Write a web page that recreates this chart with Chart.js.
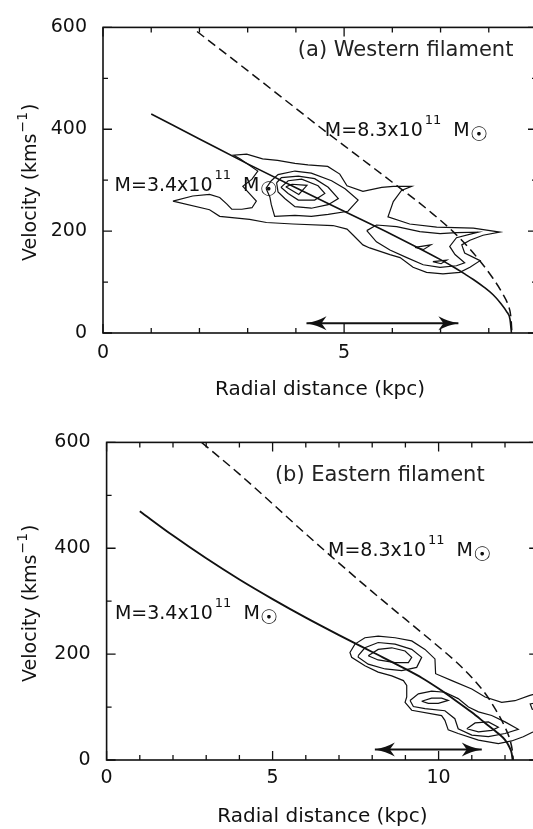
<!DOCTYPE html>
<html>
<head>
<meta charset="utf-8">
<script src="https://cdn.jsdelivr.net/npm/chart.js@4.4.1/dist/chart.umd.min.js"></script>
<style>
  html, body { margin: 0; padding: 0; background: #fff; overflow: hidden; }
  #wrap { position: relative; width: 533px; height: 829px; overflow: hidden; background: #fff; }
  #wrap canvas { position: absolute; left: 0; }
  #west { top: 0; }
  #east { top: 415px; }
</style>
</head>
<body>
<div id="wrap">
  <canvas id="west" width="545" height="415"></canvas>
  <canvas id="east" width="545" height="414"></canvas>
</div>
<script>
// ---- shared axis values ----
const velTicks = [0, 200, 400, 600];
const velMinor = [100, 300, 500];

// ---- (a) Western filament ----
const westTicks = [0, 5];
const westMinor = [1, 2, 3, 4, 6, 7, 8];
// model curves: [radius kpc, velocity km/s]
const westModelLow = [[1, 430], [2, 381], [3, 332], [4, 285], [5, 239], [6, 193], [6.5, 169], [7, 144], [7.26, 130],
  [7.5, 116], [7.68, 105], [7.9, 90], [8.09, 75], [8.25, 58], [8.37, 42], [8.44, 27], [8.47, 0]];
const westModelHigh = [[1.95, 592], [3, 515], [4, 441], [4.5, 404], [5, 368], [5.5, 332], [6, 296], [6.5, 260],
  [6.85, 233], [7.26, 199], [7.68, 157], [8.09, 107], [8.3, 75], [8.4, 55], [8.46, 30], [8.48, 0]];
// position-velocity contours (closed rings)
const westContours = [
  [[1.45, 259], [1.86, 269], [2.21, 272], [2.42, 266], [2.57, 253], [2.67, 243], [2.88, 243], [3.09, 246], [3.18, 259],
   [2.90, 288], [3.09, 302], [3.21, 318], [2.84, 342], [2.71, 349], [2.98, 351], [3.31, 342], [3.62, 339], [3.98, 333],
   [4.25, 330], [4.66, 327], [4.91, 312], [5.06, 289], [5.39, 278], [5.78, 286], [6.02, 288], [6.40, 288], [6.19, 280],
   [6.02, 258], [5.91, 228], [6.36, 214], [6.92, 208], [7.68, 206], [8.23, 198], [7.88, 192], [7.61, 182], [7.44, 173],
   [7.50, 157], [7.82, 142], [7.61, 129], [7.40, 119], [7.05, 116], [6.71, 119], [6.43, 129], [6.16, 148], [5.95, 154],
   [5.53, 167], [5.39, 173], [5.19, 192], [5.06, 204], [4.77, 211], [3.94, 214], [3.39, 217], [3.04, 223], [2.42, 229],
   [2.21, 242]],
  [[3.38, 284], [3.49, 299], [3.63, 311], [3.98, 318], [4.32, 314], [4.74, 299], [5.02, 283], [5.29, 261], [5.08, 239],
   [4.67, 233], [4.32, 229], [3.98, 231], [3.56, 229], [3.49, 252], [3.46, 267]],
  [[3.60, 295], [3.70, 305], [4.05, 308], [4.39, 303], [4.67, 286], [4.88, 264], [4.67, 252], [4.32, 245], [3.98, 248],
   [3.77, 264], [3.63, 277]],
  [[3.69, 286], [3.84, 299], [4.12, 302], [4.46, 289], [4.60, 274], [4.39, 261], [4.05, 261], [3.84, 274]],
  [[3.79, 287], [3.92, 292], [4.23, 290], [4.06, 272]],
  [[5.47, 201], [5.67, 212], [6.09, 209], [6.57, 199], [6.99, 195], [7.33, 197], [7.78, 198], [7.33, 187], [7.19, 170],
   [7.30, 154], [7.50, 138], [7.33, 132], [6.99, 129], [6.64, 134], [6.30, 148], [5.95, 163], [5.67, 179]],
  [[6.47, 168], [6.80, 173], [6.65, 164]],
  [[6.84, 140], [7.13, 143], [7.01, 136]]
];
const westArrow = [[4.22, 19], [7.37, 19]];

// ---- (b) Eastern filament ----
const eastTicks = [0, 5, 10];
const eastMinor = [1, 2, 3, 4, 6, 7, 8, 9, 11, 12];
const eastModelLow = [[1, 470], [2, 424], [3, 381], [4, 341], [5, 304], [6, 269], [7, 236], [8, 204], [9, 172],
  [9.5, 155], [10, 135], [10.5, 113], [11, 90], [11.4, 70], [11.8, 50], [12.0, 38], [12.12, 26], [12.2, 13], [12.23, 0]];
const eastModelHigh = [[2.86, 600], [4, 540], [5, 484], [6, 427], [7, 372], [8, 318], [9, 266], [10, 214], [10.5, 187],
  [11, 156], [11.4, 126], [11.7, 97], [12, 62], [12.15, 38], [12.22, 18], [12.25, 0]];
const eastContours = [
  // lowest level, continues past the right-hand edge
  [[13.1, 62], [12.84, 53], [12.55, 44], [12.20, 36], [11.80, 31], [11.20, 37.5], [10.59, 50], [10.29, 57], [10.19, 75],
   [10.09, 84], [9.19, 94], [8.99, 109], [9.04, 119], [9.04, 141], [8.94, 150], [8.59, 159], [8.18, 166], [7.78, 178],
   [7.38, 194], [7.33, 203], [7.48, 219], [7.78, 231], [8.18, 234], [8.69, 231], [9.19, 225], [9.59, 209], [9.89, 191],
   [9.91, 163], [10.40, 150], [11.00, 134], [11.40, 119], [11.90, 109], [12.30, 112], [12.75, 122], [13.1, 128]],
  [[13.1, 110], [12.76, 106], [12.82, 96], [13.1, 93]],
  [[7.58, 197], [7.78, 212], [8.18, 222], [8.69, 219], [9.19, 209], [9.49, 194], [9.34, 175], [8.89, 169], [8.39, 172],
   [7.88, 181], [7.58, 194]],
  [[7.88, 197], [8.18, 209], [8.59, 212], [8.99, 206], [9.19, 194], [9.09, 184], [8.69, 184], [8.18, 189]],
  [[9.14, 112.5], [9.39, 125], [9.79, 130], [10.19, 128], [10.59, 116], [10.90, 100], [11.20, 91], [11.60, 84], [12.0, 72],
   [12.40, 58], [12.0, 50], [11.50, 44], [11.0, 47], [10.59, 59], [10.49, 78], [10.19, 93], [9.59, 97], [9.24, 101]],
  [[9.49, 111], [9.79, 117], [10.09, 117], [10.29, 112.5], [9.99, 107], [9.69, 107]],
  [[10.85, 59], [11.10, 70], [11.50, 72], [11.80, 62], [11.60, 56], [11.20, 53]]
];
const eastOpen = [true, true, false, false, false, false, false]; // first two run off the edge
const eastArrow = [[8.08, 20], [11.3, 20]];

const FONT = '"DejaVu Sans", "Liberation Sans", sans-serif';
const INK = '#111';

const toXY = pts => pts.map(p => ({ x: p[0], y: p[1] }));
const ring = pts => toXY(pts.concat([pts[0]]));

function head(ctx, tx, ty, dir) {
  const L = 20, W = 7, N = 5;
  ctx.beginPath();
  ctx.moveTo(tx, ty);
  ctx.quadraticCurveTo(tx - dir * L * 0.55, ty - W * 0.3, tx - dir * L, ty - W);
  ctx.lineTo(tx - dir * (L - N), ty);
  ctx.lineTo(tx - dir * L, ty + W);
  ctx.quadraticCurveTo(tx - dir * L * 0.55, ty + W * 0.3, tx, ty);
  ctx.closePath();
  ctx.fill();
}

function massLabel(ctx, x, y, mantissa) {
  ctx.textAlign = 'left';
  ctx.textBaseline = 'alphabetic';
  const main = 'M=' + mantissa + 'x10';
  ctx.font = '19px ' + FONT;
  ctx.fillText(main, x, y);
  let cx = x + ctx.measureText(main).width + 2;
  ctx.font = '13px ' + FONT;
  ctx.fillText('11', cx, y - 12);
  cx += ctx.measureText('11').width + 12;
  ctx.font = '19px ' + FONT;
  ctx.fillText('M', cx, y);
  cx += ctx.measureText('M').width;
  ctx.font = '20px ' + FONT;
  ctx.fillText('\u2609', cx, y + 5);
}

function velTitle(ctx, bx, cy) {
  ctx.save();
  ctx.translate(bx, cy);
  ctx.rotate(-Math.PI / 2);
  ctx.textAlign = 'left';
  ctx.textBaseline = 'alphabetic';
  const a = 'Velocity (kms', s = '\u22121', b = ')';
  ctx.font = '19px ' + FONT;
  const wa = ctx.measureText(a).width, wb = ctx.measureText(b).width;
  ctx.font = '14px ' + FONT;
  const ws = ctx.measureText(s).width;
  let x = -(wa + ws + wb + 2) / 2;
  ctx.font = '19px ' + FONT;
  ctx.fillText(a, x, 0);
  x += wa + 1;
  ctx.font = '14px ' + FONT;
  ctx.fillText(s, x, -9);
  x += ws + 1;
  ctx.font = '19px ' + FONT;
  ctx.fillText(b, x, 0);
  ctx.restore();
}

const framePlugin = {
  id: 'frame',
  afterDatasetsDraw(chart, args, o) {
    const pts = chart.getDatasetMeta(o.arrowIndex).data;
    if (!pts || pts.length < 2) return;
    const ctx = chart.ctx;
    ctx.save();
    ctx.fillStyle = INK;
    head(ctx, pts[0].x, pts[0].y, -1);
    head(ctx, pts[pts.length - 1].x, pts[pts.length - 1].y, 1);
    ctx.restore();
  },
  afterDraw(chart, args, o) {
    const { ctx, chartArea: ca, scales: { x, y } } = chart;
    ctx.save();
    ctx.strokeStyle = INK;
    ctx.lineWidth = 1.6;
    ctx.strokeRect(ca.left, ca.top, ca.right - ca.left, ca.bottom - ca.top);
    ctx.lineWidth = 1.3;
    ctx.beginPath();
    const xt = (vals, len) => vals.forEach(v => {
      const p = x.getPixelForValue(v);
      ctx.moveTo(p, ca.bottom); ctx.lineTo(p, ca.bottom - len);
      ctx.moveTo(p, ca.top); ctx.lineTo(p, ca.top + len);
    });
    const yt = (vals, len) => vals.forEach(v => {
      const p = y.getPixelForValue(v);
      ctx.moveTo(ca.left, p); ctx.lineTo(ca.left + len, p);
      ctx.moveTo(ca.right, p); ctx.lineTo(ca.right - len, p);
    });
    xt(o.xMajor, 9); xt(o.xMinor, 5);
    yt(velTicks, 9); yt(velMinor, 5);
    ctx.stroke();

    ctx.textAlign = 'left';
    ctx.textBaseline = 'alphabetic';
    ctx.font = '21px ' + FONT;
    ctx.fillStyle = '#222';
    ctx.fillText(o.title, x.getPixelForValue(o.titleAt[0]), y.getPixelForValue(o.titleAt[1]));
    ctx.fillStyle = INK;
    o.masses.forEach(m => massLabel(ctx, x.getPixelForValue(m.at[0]), y.getPixelForValue(m.at[1]), m.mantissa));

    ctx.font = '20px ' + FONT;
    ctx.textAlign = 'center';
    ctx.fillText('Radial distance (kpc)', (ca.left + ca.right) / 2, ca.bottom + 62);
    velTitle(ctx, 36, (ca.top + ca.bottom) / 2 + 2);
    ctx.restore();
  }
};

function buildDatasets(low, high, contours, openFlags, arrow, lowWidth) {
  const sets = [];
  contours.forEach((c, i) => sets.push({
    data: (openFlags && openFlags[i]) ? toXY(c) : ring(c),
    borderColor: INK, borderWidth: 1.2, tension: 0
  }));
  sets.push({ data: toXY(low), borderColor: INK, borderWidth: lowWidth, cubicInterpolationMode: 'monotone' });
  sets.push({ data: toXY(high), borderColor: INK, borderWidth: 1.5, borderDash: [9, 5], cubicInterpolationMode: 'monotone' });
  sets.push({ data: toXY(arrow), borderColor: INK, borderWidth: 2 });
  sets.forEach(s => { s.showLine = true; s.pointRadius = 0; s.fill = false; });
  return sets;
}

function makeChart(id, cfg) {
  const datasets = buildDatasets(cfg.low, cfg.high, cfg.contours, cfg.open, cfg.arrow, cfg.lowWidth);
  return new Chart(document.getElementById(id), {
    type: 'scatter',
    data: { datasets },
    plugins: [framePlugin],
    options: {
      responsive: false,
      animation: false,
      devicePixelRatio: 1,
      events: [],
      layout: { padding: { left: 0, top: cfg.padTop, right: cfg.padRight, bottom: 0 } },
      plugins: {
        legend: { display: false },
        tooltip: { enabled: false },
        frame: {
          arrowIndex: datasets.length - 1,
          xMajor: cfg.xTicks, xMinor: cfg.xMinor,
          title: cfg.title, titleAt: cfg.titleAt, masses: cfg.masses
        }
      },
      scales: {
        x: {
          type: 'linear', min: 0, max: cfg.xMax,
          grid: { display: false, drawTicks: false },
          border: { display: false },
          ticks: { color: INK, font: { family: FONT, size: 19 }, padding: cfg.xPad, autoSkip: false, maxRotation: 0,
                   callback: v => String(v) },
          afterBuildTicks: s => { s.ticks = cfg.xTicks.map(v => ({ value: v })); },
          afterFit: s => { s.height = cfg.xAxisH; }
        },
        y: {
          type: 'linear', min: 0, max: 600,
          grid: { display: false, drawTicks: false },
          border: { display: false },
          ticks: { color: INK, font: { family: FONT, size: 19 }, padding: 16, autoSkip: false,
                   callback: v => String(v) },
          afterBuildTicks: s => { s.ticks = velTicks.map(v => ({ value: v })); },
          afterFit: s => { s.width = cfg.yAxisW; }
        }
      }
    }
  });
}

makeChart('west', {
  low: westModelLow, high: westModelHigh, contours: westContours, open: null, arrow: westArrow, lowWidth: 1.6,
  xMax: 9, xTicks: westTicks, xMinor: westMinor,
  padTop: 15, padRight: 8, xAxisH: 82, yAxisW: 103, xPad: 9,
  title: '(a) Western filament', titleAt: [4.04, 543],
  masses: [{ mantissa: '3.4', at: [0.24, 278] }, { mantissa: '8.3', at: [4.60, 387] }]
});

makeChart('east', {
  low: eastModelLow, high: eastModelHigh, contours: eastContours, open: eastOpen, arrow: eastArrow, lowWidth: 1.9,
  xMax: 13, xTicks: eastTicks, xMinor: eastMinor,
  padTop: 25, padRight: 6.8, xAxisH: 69, yAxisW: 106.6, xPad: 7,
  title: '(b) Eastern filament', titleAt: [5.07, 528],
  masses: [{ mantissa: '3.4', at: [0.25, 266] }, { mantissa: '8.3', at: [6.67, 386] }]
});
</script>
</body>
</html>
